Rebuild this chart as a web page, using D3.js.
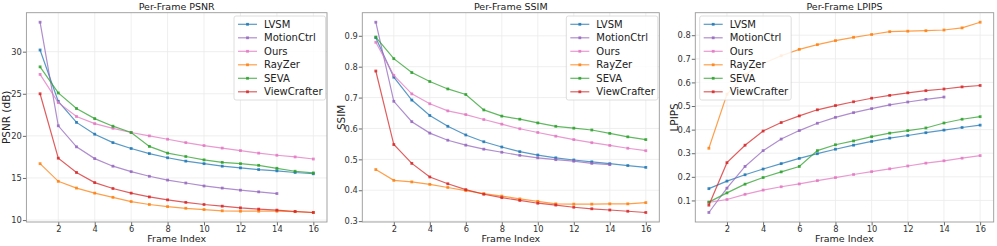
<!DOCTYPE html>
<html>
<head>
<meta charset="utf-8">
<script src="https://cdn.jsdelivr.net/npm/d3@7"></script>
<style>
  body { margin: 0; background: #fff; }
  svg { display: block; font-family: "DejaVu Sans", sans-serif; }
</style>
</head>
<body>
<svg id="chart" width="997" height="246"></svg>
<script>
const frames = d3.range(1, 17);
const methods = ["LVSM", "MotionCtrl", "Ours", "RayZer", "SEVA", "ViewCrafter"];
const colors = ["#1f77b4", "#9467bd", "#e377c2", "#ff7f0e", "#2ca02c", "#d62728"];

// PSNR per frame
const psnrLVSM = [30.2, 24.1, 21.6, 20.2, 19.2, 18.5, 17.9, 17.4, 17.0, 16.7, 16.4, 16.2, 16.0, 15.85, 15.65, 15.5];
const psnrMotionCtrl = [33.5, 21.2, 18.7, 17.3, 16.4, 15.75, 15.2, 14.75, 14.4, 14.05, 13.8, 13.55, 13.35, 13.15];
const psnrOurs = [27.3, 23.95, 22.3, 21.45, 20.9, 20.4, 20.0, 19.6, 19.2, 18.85, 18.55, 18.25, 17.95, 17.7, 17.5, 17.25];
const psnrRayZer = [16.7, 14.6, 13.8, 13.2, 12.7, 12.2, 11.85, 11.6, 11.4, 11.25, 11.1, 11.05, 11.05, 11.05, 11.0, 10.9];
const psnrSEVA = [28.2, 25.1, 23.25, 22.05, 21.15, 20.4, 18.75, 17.95, 17.55, 17.15, 16.85, 16.7, 16.5, 16.15, 15.8, 15.6];
const psnrViewCrafter = [25.0, 17.35, 15.65, 14.45, 13.75, 13.2, 12.75, 12.4, 12.1, 11.85, 11.65, 11.45, 11.3, 11.18, 11.02, 10.9];

// SSIM per frame
const ssimLVSM = [0.894, 0.766, 0.692, 0.642, 0.607, 0.579, 0.557, 0.540, 0.525, 0.514, 0.505, 0.498, 0.492, 0.486, 0.480, 0.474];
const ssimMotionCtrl = [0.944, 0.688, 0.622, 0.585, 0.562, 0.546, 0.533, 0.523, 0.513, 0.505, 0.499, 0.494, 0.487, 0.483];
const ssimOurs = [0.879, 0.772, 0.712, 0.680, 0.657, 0.645, 0.629, 0.614, 0.599, 0.587, 0.575, 0.564, 0.554, 0.545, 0.536, 0.528];
const ssimRayZer = [0.467, 0.432, 0.427, 0.419, 0.409, 0.399, 0.389, 0.381, 0.372, 0.364, 0.356, 0.355, 0.355, 0.356, 0.356, 0.360];
const ssimSEVA = [0.896, 0.826, 0.781, 0.752, 0.728, 0.710, 0.660, 0.640, 0.630, 0.618, 0.607, 0.601, 0.595, 0.584, 0.573, 0.564];
const ssimViewCrafter = [0.786, 0.548, 0.487, 0.443, 0.421, 0.402, 0.387, 0.376, 0.367, 0.358, 0.352, 0.345, 0.340, 0.336, 0.332, 0.328];

// LPIPS per frame
const lpipsLVSM = [0.150, 0.182, 0.209, 0.233, 0.256, 0.278, 0.298, 0.317, 0.334, 0.350, 0.364, 0.375, 0.387, 0.398, 0.409, 0.419];
const lpipsMotionCtrl = [0.049, 0.152, 0.244, 0.311, 0.360, 0.396, 0.427, 0.452, 0.472, 0.489, 0.505, 0.517, 0.528, 0.538];
const lpipsOurs = [0.092, 0.104, 0.126, 0.144, 0.158, 0.170, 0.184, 0.197, 0.210, 0.222, 0.234, 0.246, 0.258, 0.268, 0.279, 0.290];
const lpipsRayZer = [0.321, 0.550, 0.633, 0.680, 0.713, 0.740, 0.760, 0.777, 0.791, 0.803, 0.815, 0.817, 0.819, 0.822, 0.831, 0.855];
const lpipsSEVA = [0.093, 0.132, 0.169, 0.197, 0.221, 0.244, 0.311, 0.336, 0.352, 0.370, 0.385, 0.396, 0.407, 0.428, 0.444, 0.455];
const lpipsViewCrafter = [0.080, 0.260, 0.334, 0.394, 0.430, 0.458, 0.484, 0.502, 0.518, 0.533, 0.545, 0.556, 0.565, 0.572, 0.581, 0.587];

const xTicks = [2, 4, 6, 8, 10, 12, 14, 16];
const psnrTicks = [10, 15, 20, 25, 30];
const ssimTicks = [0.3, 0.4, 0.5, 0.6, 0.7, 0.8, 0.9];
const lpipsTicks = [0.1, 0.2, 0.3, 0.4, 0.5, 0.6, 0.7, 0.8];

const panels = [
  { title: "Per-Frame PSNR", ylabel: "PSNR (dB)", left: 26.4, right: 327, labelX: 6.8,
    series: [psnrLVSM, psnrMotionCtrl, psnrOurs, psnrRayZer, psnrSEVA, psnrViewCrafter],
    ticks: psnrTicks, fmt: d3.format("d"), legend: "right" },
  { title: "Per-Frame SSIM", ylabel: "SSIM", left: 362.3, right: 659.3, labelX: 341.2,
    series: [ssimLVSM, ssimMotionCtrl, ssimOurs, ssimRayZer, ssimSEVA, ssimViewCrafter],
    ticks: ssimTicks, fmt: d3.format(".1f"), legend: "right" },
  { title: "Per-Frame LPIPS", ylabel: "LPIPS", left: 695.3, right: 993.7, labelX: 674.2,
    series: [lpipsLVSM, lpipsMotionCtrl, lpipsOurs, lpipsRayZer, lpipsSEVA, lpipsViewCrafter],
    ticks: lpipsTicks, fmt: d3.format(".1f"), legend: "left" }
];

const plotTop = 12.7, plotBottom = 222;
const svg = d3.select("#chart");

panels.forEach(p => {
  const all = p.series.flat();
  const lo = d3.min(all), hi = d3.max(all), pad = (hi - lo) * 0.05;
  const x = d3.scaleLinear().domain([0.25, 16.75]).range([p.left, p.right]);
  const y = d3.scaleLinear().domain([lo - pad, hi + pad]).range([plotBottom, plotTop]);
  const g = svg.append("g");

  // grid
  g.selectAll(".gx").data(xTicks).enter().append("line")
    .attr("x1", d => x(d)).attr("x2", d => x(d)).attr("y1", plotTop).attr("y2", plotBottom)
    .attr("stroke", "#ebebeb").attr("stroke-width", 0.8);
  g.selectAll(".gy").data(p.ticks).enter().append("line")
    .attr("x1", p.left).attr("x2", p.right).attr("y1", d => y(d)).attr("y2", d => y(d))
    .attr("stroke", "#ebebeb").attr("stroke-width", 0.8);

  // axes
  const xa = g.append("g").attr("transform", `translate(0,${plotBottom})`)
    .call(d3.axisBottom(x).tickValues(xTicks).tickSize(3.5).tickPadding(0.6).tickFormat(d3.format("d")));
  const ya = g.append("g").attr("transform", `translate(${p.left},0)`)
    .call(d3.axisLeft(y).tickValues(p.ticks).tickSize(3.5).tickPadding(1).tickFormat(p.fmt));
  [xa, ya].forEach(a => {
    a.select(".domain").remove();
    a.selectAll(".tick line").attr("stroke", "#444").attr("stroke-width", 0.8);
    a.selectAll(".tick text").attr("fill", "#333").style("font-size", "8.3px")
      .style("font-family", "DejaVu Sans");
  });

  // lines + markers
  p.series.forEach((vals, i) => {
    const pts = vals.map((v, k) => [frames[k], v]);
    g.append("path").datum(pts)
      .attr("fill", "none").attr("stroke", colors[i]).attr("stroke-width", 1.2)
      .attr("stroke-opacity", 0.75)
      .attr("d", d3.line().x(d => x(d[0])).y(d => y(d[1])));
    g.selectAll(null).data(pts).enter().append("rect")
      .attr("x", d => x(d[0]) - 1.4).attr("y", d => y(d[1]) - 1.4)
      .attr("width", 2.8).attr("height", 2.8)
      .attr("fill", colors[i]).attr("fill-opacity", 0.85);
  });

  // frame
  g.append("rect").attr("x", p.left).attr("y", plotTop)
    .attr("width", p.right - p.left).attr("height", plotBottom - plotTop)
    .attr("fill", "none").attr("stroke", "#999").attr("stroke-width", 0.9);

  // titles
  g.append("text").attr("x", (p.left + p.right) / 2).attr("y", 9.8)
    .attr("text-anchor", "middle").style("font-size", "9.5px").attr("fill", "#1a1a1a").text(p.title);
  g.append("text").attr("x", (p.left + p.right) / 2).attr("y", 242.3)
    .attr("text-anchor", "middle").style("font-size", "9.5px").attr("fill", "#222").text("Frame Index");
  g.append("text").attr("transform", `translate(${p.labelX},${(plotTop + plotBottom) / 2}) rotate(-90)`)
    .attr("text-anchor", "middle").attr("dy", "0.35em")
    .style("font-size", "10.5px").attr("fill", "#222").text(p.ylabel);

  // legend
  const lg = g.append("g");
  const box = lg.append("rect").attr("rx", 2).attr("fill", "#fff").attr("fill-opacity", 0.85)
    .attr("stroke", "#d6d6d6").attr("stroke-width", 0.8);
  let maxW = 0;
  methods.forEach((m, i) => {
    const ry = 8.3 + i * 13.5;
    lg.append("line").attr("x1", 4).attr("x2", 23).attr("y1", ry).attr("y2", ry)
      .attr("stroke", colors[i]).attr("stroke-width", 1.2).attr("stroke-opacity", 0.75);
    lg.append("rect").attr("x", 12.1).attr("y", ry - 1.4).attr("width", 2.8).attr("height", 2.8)
      .attr("fill", colors[i]).attr("fill-opacity", 0.85);
    const t = lg.append("text").attr("x", 30).attr("y", ry).attr("dy", "0.35em")
      .style("font-size", "10px").attr("fill", "#222").text(m);
    maxW = Math.max(maxW, t.node().getComputedTextLength());
  });
  const w = 30 + maxW + 3, h = 84;
  box.attr("width", w).attr("height", h);
  const lx = p.legend === "right" ? p.right - 1.5 - w : p.left + 4.4;
  lg.attr("transform", `translate(${lx},16)`);
});
</script>
</body>
</html>
